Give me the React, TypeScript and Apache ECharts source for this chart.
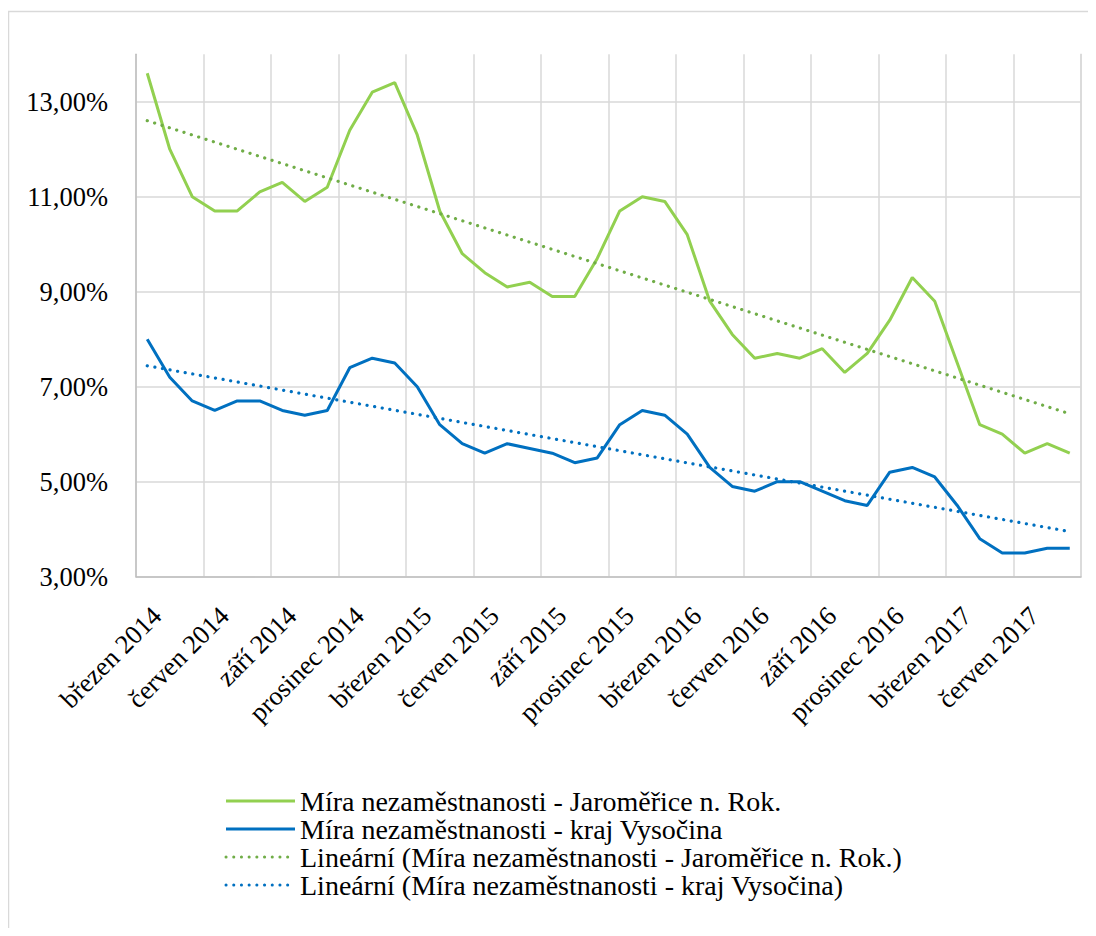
import React, { useEffect, useRef } from "react";
import * as echarts from "echarts";

const categories: string[] = [
  "březen 2014", "duben 2014", "květen 2014", "červen 2014", "červenec 2014", "srpen 2014",
  "září 2014", "říjen 2014", "listopad 2014", "prosinec 2014", "leden 2015", "únor 2015",
  "březen 2015", "duben 2015", "květen 2015", "červen 2015", "červenec 2015", "srpen 2015",
  "září 2015", "říjen 2015", "listopad 2015", "prosinec 2015", "leden 2016", "únor 2016",
  "březen 2016", "duben 2016", "květen 2016", "červen 2016", "červenec 2016", "srpen 2016",
  "září 2016", "říjen 2016", "listopad 2016", "prosinec 2016", "leden 2017", "únor 2017",
  "březen 2017", "duben 2017", "květen 2017", "červen 2017", "červenec 2017", "srpen 2017",
];

const jaromerice: number[] = [
  13.6, 12.0, 11.0, 10.7, 10.7, 11.1, 11.3, 10.9, 11.2, 12.4,
  13.2, 13.4, 12.3, 10.7, 9.8, 9.4, 9.1, 9.2, 8.9, 8.9,
  9.7, 10.7, 11.0, 10.9, 10.2, 8.8, 8.1, 7.6, 7.7, 7.6,
  7.8, 7.3, 7.7, 8.4, 9.3, 8.8, 7.5, 6.2, 6.0, 5.6,
  5.8, 5.6,
];

const vysocina: number[] = [
  8.0, 7.2, 6.7, 6.5, 6.7, 6.7, 6.5, 6.4, 6.5, 7.4,
  7.6, 7.5, 7.0, 6.2, 5.8, 5.6, 5.8, 5.7, 5.6, 5.4,
  5.5, 6.2, 6.5, 6.4, 6.0, 5.3, 4.9, 4.8, 5.0, 5.0,
  4.8, 4.6, 4.5, 5.2, 5.3, 5.1, 4.5, 3.8, 3.5, 3.5,
  3.6, 3.6,
];

// Linear trend lines: start and end values
const trendJaromerice: number[] = [12.6, 6.43];
const trendVysocina: number[] = [7.44, 3.95];

const seriesNames: string[] = [
  "Míra nezaměstnanosti - Jaroměřice n. Rok.",
  "Míra nezaměstnanosti - kraj Vysočina",
  "Lineární (Míra nezaměstnanosti - Jaroměřice n. Rok.)",
  "Lineární (Míra nezaměstnanosti - kraj Vysočina)",
];

const FONT = "Times New Roman, Liberation Serif, DejaVu Serif, serif";

export default function App() {
  const ref = useRef<HTMLDivElement>(null);

  useEffect(() => {
    if (!ref.current) return;
    const chart = echarts.init(ref.current, null, { renderer: "svg" });
    const first = categories[0];
    const last = categories[categories.length - 1];
    const dotted = [0.1, 7.6];
    chart.setOption({
      animation: false,
      backgroundColor: "#ffffff",
      textStyle: { fontFamily: FONT },
      graphic: [
        {
          type: "rect",
          shape: { x: 0.5, y: 3.5, width: 1200, height: 1200 },
          style: { fill: "none", stroke: "#d9d9d9", lineWidth: 1.5 },
          silent: true,
        },
      ],
      grid: { left: 128, right: 15, top: 46.2, bottom: 351.3, containLabel: false },
      legend: {
        orient: "vertical",
        left: 216.5,
        top: 779,
        height: 300,
        padding: 0,
        itemWidth: 69,
        itemHeight: 20,
        itemGap: 0,
        itemStyle: { opacity: 0 },
        lineStyle: { width: 3 },
        textStyle: { fontFamily: FONT, fontSize: 28, color: "#000" },
        data: seriesNames,
      },
      xAxis: {
        type: "category",
        data: categories,
        boundaryGap: true,
        axisLine: { show: true, lineStyle: { color: "#bfbfbf", width: 1.5 } },
        axisTick: { show: false },
        splitLine: { show: true, interval: 2, lineStyle: { color: "#d9d9d9", width: 1.5 } },
        axisLabel: {
          interval: 2,
          rotate: 45,
          align: "right",
          verticalAlign: "top",
          margin: 25,
          fontFamily: FONT,
          fontSize: 26.5,
          color: "#000",
        },
      },
      yAxis: [
        {
          type: "value",
          min: 3,
          max: 14,
          interval: 2,
          axisLine: { show: true, lineStyle: { color: "#bfbfbf", width: 1.5 } },
          axisTick: { show: false },
          splitLine: { show: true, showMaxLine: false, lineStyle: { color: "#d9d9d9", width: 1.5 } },
          axisLabel: {
            showMaxLabel: false,
            margin: 28,
            fontFamily: FONT,
            fontSize: 26.5,
            color: "#000",
            formatter: (v: number) => v.toFixed(2).replace(".", ",") + "%",
          },
        },
        {
          type: "value",
          position: "right",
          min: 3,
          max: 14,
          interval: 2,
          axisLine: { show: true, lineStyle: { color: "#d9d9d9", width: 1.5 } },
          axisTick: { show: false },
          axisLabel: { show: false },
          splitLine: { show: false },
        },
      ],
      series: [
        {
          name: seriesNames[0],
          type: "line",
          data: jaromerice,
          symbol: "none",
          color: "#92D050",
          lineStyle: { color: "#92D050", width: 3 },
        },
        {
          name: seriesNames[1],
          type: "line",
          data: vysocina,
          symbol: "none",
          color: "#0070C0",
          lineStyle: { color: "#0070C0", width: 3 },
        },
        {
          name: seriesNames[2],
          type: "line",
          data: [[first, trendJaromerice[0]], [last, trendJaromerice[1]]],
          symbol: "none",
          color: "#70AD47",
          lineStyle: { color: "#70AD47", width: 3.2, type: dotted, cap: "round" },
        },
        {
          name: seriesNames[3],
          type: "line",
          data: [[first, trendVysocina[0]], [last, trendVysocina[1]]],
          symbol: "none",
          color: "#0070C0",
          lineStyle: { color: "#0070C0", width: 3.2, type: dotted, cap: "round" },
        },
      ],
    });
    return () => chart.dispose();
  }, []);

  return <div ref={ref} style={{ width: 1088, height: 920 }} />;
}
